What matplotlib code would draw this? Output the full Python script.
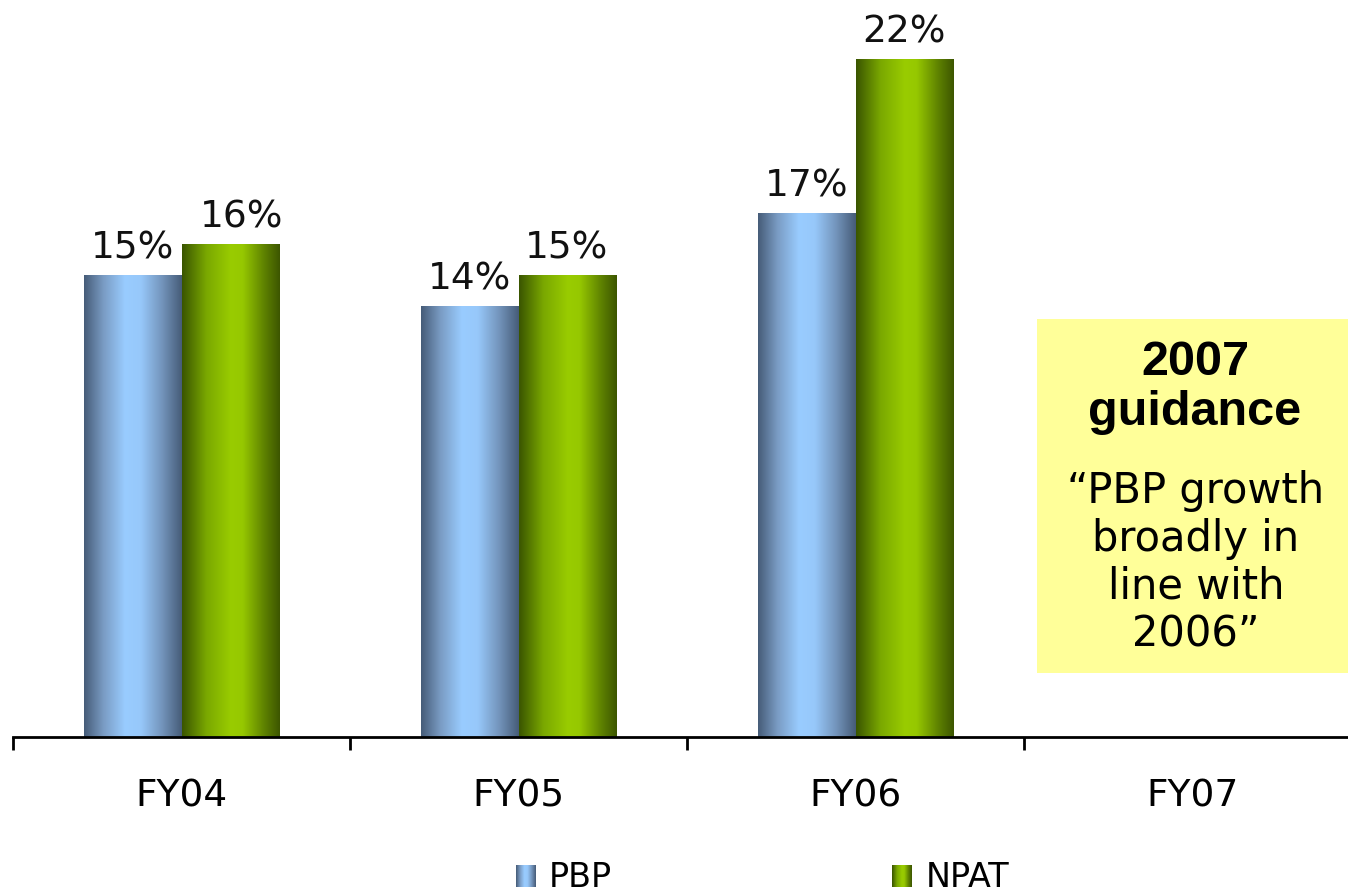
import numpy as np
import matplotlib
matplotlib.use("Agg")
import matplotlib.pyplot as plt
from matplotlib.colors import LinearSegmentedColormap
from matplotlib.patches import Rectangle

categories = ["FY04", "FY05", "FY06", "FY07"]
pbp = [15, 14, 17, None]
npat = [16, 15, 22, None]
series_names = ["PBP", "NPAT"]
box_title = ["2007", "guidance"]
box_body = "\u201cPBP growth\nbroadly in\nline with\n2006\u201d"

W, H = 1348, 893
fig = plt.figure(figsize=(W / 100, H / 100), dpi=100)
px_per_unit = 30.8
ax = fig.add_axes([13 / W, (H - 737) / H, 1.0, 737 / H])

blue_cmap = LinearSegmentedColormap.from_list(
    "b", [(0, "#465c78"), (0.2, "#7a9cc4"), (0.42, "#99ccff"), (0.58, "#97c8fa"),
          (0.8, "#7394bb"), (1, "#465c78")])
green_cmap = LinearSegmentedColormap.from_list(
    "g", [(0, "#3a5500"), (0.25, "#7aa800"), (0.5, "#99cc00"), (0.62, "#96c800"),
          (0.85, "#5c7f00"), (1, "#3d5600")])

width = 0.288
grad = np.linspace(0, 1, 256).reshape(1, -1)

def gradient_bars(xs, vals, cmap):
    for x, v in zip(xs, vals):
        if v is None:
            continue
        b = ax.bar(x, v, width=width, color="none", edgecolor="none")[0]
        im = ax.imshow(grad, cmap=cmap, aspect="auto",
                       extent=[x - width / 2, x + width / 2, 0, v], zorder=2)
        im.set_clip_path(b)

x = np.arange(len(categories))
gradient_bars(x - width / 2, pbp, blue_cmap)
gradient_bars(x + width / 2, npat, green_cmap)
ax.set_xlim(-0.5, 3.5)
ax.set_ylim(0, 737 / px_per_unit)

label_dx = {(1, 0): 12}
for si, (vals, off) in enumerate([(pbp, -width / 2), (npat, width / 2)]):
    for i, v in enumerate(vals):
        if v is None:
            continue
        ax.annotate(f"{v}%", (i + off, v), xytext=(label_dx.get((si, i), 0) * 0.72, 12),
                    textcoords="offset points", ha="center", va="baseline",
                    fontsize=27, color="#111111", family="DejaVu Sans")

for s in ["top", "right", "left"]:
    ax.spines[s].set_visible(False)
ax.spines["bottom"].set_linewidth(2)
ax.set_yticks([])
ax.set_xticks(np.arange(-0.5, 4.0, 1.0))
ax.set_xticklabels([])
ax.tick_params(axis="x", which="major", length=9.5, width=2, direction="out")
ax.set_xticks(x, minor=True)
ax.set_xticklabels(categories, minor=True, fontsize=27, family="DejaVu Sans")
ax.tick_params(axis="x", which="minor", length=0, pad=30)

# guidance box
fig.patches.append(Rectangle((1037 / W, (H - 673) / H), (1348 - 1037) / W, (673 - 319) / H,
                             transform=fig.transFigure, facecolor="#ffff99",
                             edgecolor="none", zorder=1))
for line, base in zip(box_title, [375, 425]):
    fig.text(1195 / W, 1 - base / H, line, ha="center", va="baseline", fontsize=35,
             fontweight="bold", family="Liberation Sans")
fig.text(1196 / W, 1 - 563 / H, box_body, ha="center", va="center", fontsize=30,
         family="DejaVu Sans", linespacing=1.18)

# legend
leg_grad = np.linspace(0, 1, 64).reshape(1, -1)
for name, cmap, px, tx in [(series_names[0], blue_cmap, 516, 549),
                           (series_names[1], green_cmap, 892, 926)]:
    lax = fig.add_axes([px / W, (H - 887) / H, 20 / W, 22 / H])
    lax.imshow(leg_grad, cmap=cmap, aspect="auto")
    lax.axis("off")
    fig.text(tx / W, 1 - 887 / H, name, ha="left", va="baseline", fontsize=24,
             family="DejaVu Sans")

fig.savefig("out.png", dpi=100)
